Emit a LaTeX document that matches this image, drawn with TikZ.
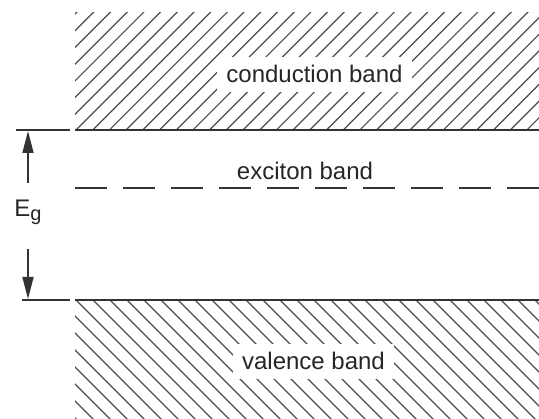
\documentclass[tikz,border=0pt]{standalone}
\usepackage{fontspec}
\setmainfont{Liberation Sans}
\usetikzlibrary{arrows.meta}
\begin{document}
\begin{tikzpicture}[x=1pt,y=-1pt,
  bandline/.style={line width=2pt, color=black!80},
  tickline/.style={line width=1.6pt, color=black!80},
  hatchline/.style={line width=1.2pt, color=black!70},
  dashline/.style={line width=2pt, color=black!80, dash pattern=on 32pt off 16pt},
  bandlabel/.style={font=\fontsize{24pt}{28pt}\selectfont, text=black!85, anchor=base, inner sep=0pt},
  blank/.style={fill=white, inner xsep=9pt, inner ysep=9pt},
  gaparrow/.style={line width=1.6pt, color=black!80, -{Triangle[length=22pt,width=11pt]}}]
  \useasboundingbox (0,0) rectangle (539,419);

  % conduction band: hatched region above the gap
  \begin{scope}
    \clip (75,13) rectangle (539,130);
    \foreach \i in {-8,...,28}
      \draw[hatchline] ({75+16.7*\i},131) -- ++(122,-122);
  \end{scope}

  % valence band: hatched region below the gap
  \begin{scope}
    \clip (75,300) rectangle (539,419);
    \foreach \i in {-8,...,28}
      \draw[hatchline] ({75+17*\i},299) -- ++(122,122);
  \end{scope}

  % band edges
  \coordinate (cbL) at (75,130);
  \coordinate (cbR) at (539,130);
  \coordinate (vbL) at (75,300);
  \coordinate (vbR) at (539,300);
  \draw[bandline] (cbL) -- (cbR);
  \draw[bandline] (vbL) -- (vbR);

  % exciton level
  \coordinate (exL) at (75,188);
  \coordinate (exR) at (539,188);
  \draw[dashline] (exL) -- (exR);

  % band labels
  \node[bandlabel, blank] (cb) at (314.5,83) {conduction band};
  \node[bandlabel, blank] (vb) at (313.5,370) {valence band};
  \node[bandlabel] (ex) at (305,180) {exciton band};

  % gap markers
  \coordinate (tA) at (16,130);
  \coordinate (tB) at (70,130);
  \coordinate (bA) at (22,300);
  \coordinate (bB) at (70,300);
  \draw[tickline] (tA) -- (tB);
  \draw[tickline] (bA) -- (bB);

  \node[bandlabel] (eg) at (28,217) {E\raisebox{-4pt}{\fontsize{20pt}{20pt}\selectfont g}};

  \coordinate (upS) at (28,183);
  \coordinate (upT) at (28,131);
  \coordinate (dnS) at (28,249);
  \coordinate (dnT) at (28,299);
  \draw[gaparrow] (upS) -- (upT);
  \draw[gaparrow] (dnS) -- (dnT);
\end{tikzpicture}
\end{document}
